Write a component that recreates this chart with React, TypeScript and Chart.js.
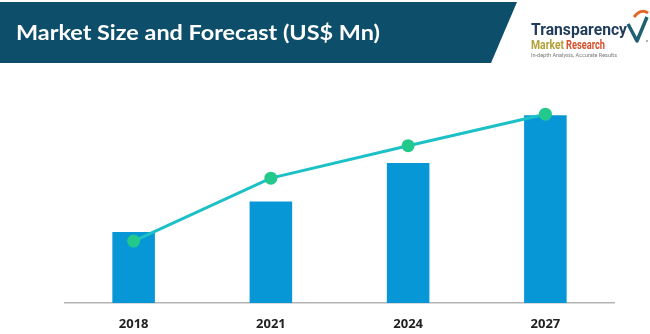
import React, { useEffect, useRef } from "react";
import { Chart, registerables } from "chart.js";

Chart.register(...registerables);

const years = ["2018", "2021", "2024", "2027"];
const marketSize = [35, 50, 69, 92.5];
const trendLine = [30.5, 61.5, 77.5, 93];
const yMin = 0;
const yMax = 100;

const title = "Market Size and Forecast (US$ Mn)";

export default function App() {
  const ref = useRef<HTMLCanvasElement | null>(null);

  useEffect(() => {
    if (!ref.current) return;
    const chart = new Chart(ref.current, {
      type: "bar",
      data: {
        labels: years,
        datasets: [
          {
            type: "line",
            data: trendLine,
            borderColor: "#1cc1c7",
            borderWidth: 3,
            pointRadius: 6.5,
            pointBackgroundColor: "#22c98b",
            pointBorderWidth: 0,
            tension: 0,
            order: 0,
          } as any,
          {
            type: "bar",
            data: marketSize,
            backgroundColor: "#0796d6",
            categoryPercentage: 1,
            barPercentage: 0.31,
            order: 1,
          },
        ],
      },
      options: {
        responsive: false,
        animation: false,
        devicePixelRatio: 1,
        layout: { padding: { left: 65, right: 36, top: 100, bottom: 0 } },
        plugins: { legend: { display: false }, tooltip: { enabled: false } },
        scales: {
          x: {
            grid: { display: false, drawTicks: false },
            border: { display: true, color: "#b3b3b3", width: 1.5 },
            ticks: {
              padding: 13,
              color: "#222",
              font: { family: "'Open Sans', sans-serif", size: 13, weight: "bold" },
            },
            afterFit: (scale: any) => {
              scale.height = 31;
            },
          },
          y: { display: false, min: yMin, max: yMax },
        },
      },
    });
    return () => chart.destroy();
  }, []);

  return (
    <div style={{ position: "fixed", left: 0, top: 0, width: 650, height: 334, background: "#fff" }}>
      <canvas ref={ref} width={650} height={334} style={{ position: "absolute", left: 0, top: 0 }} />
      <svg width={650} height={334} style={{ position: "absolute", left: 0, top: 0, pointerEvents: "none" }}>
        <polygon points="0,2 517,2 491,63 0,63" fill="#0d4e6b" />
        <text x={16} y={40} fill="#fff" fontFamily="Lato, 'Open Sans', sans-serif" fontWeight="bold" fontSize={21} textLength={364} lengthAdjust="spacingAndGlyphs">
          {title}
        </text>
        <text x={531} y={35} fill="#1f3c5b" fontFamily="Roboto, sans-serif" fontWeight="bold" fontSize={17} textLength={96} lengthAdjust="spacingAndGlyphs">
          Transparency
        </text>
        <text x={531} y={49} fill="#b2a136" fontFamily="Roboto, sans-serif" fontWeight="bold" fontSize={13} textLength={33} lengthAdjust="spacingAndGlyphs">
          Market
        </text>
        <text x={566} y={49} fill="#d4502b" fontFamily="Roboto, sans-serif" fontWeight="bold" fontSize={13} textLength={39} lengthAdjust="spacingAndGlyphs">
          Research
        </text>
        <text x={531} y={57} fill="#777" fontFamily="Roboto, sans-serif" fontSize={5} textLength={86} lengthAdjust="spacingAndGlyphs">
          In-depth Analysis, Accurate Results
        </text>
        <path d="M634,17 Q641,8 648,13" stroke="#e2672b" strokeWidth={3} fill="none" />
        <path d="M628,24 L637,41 L647,17" stroke="#1f5f73" strokeWidth={3.5} fill="none" strokeLinejoin="round" />
        <circle cx={647} cy={41} r={1} fill="#999" />
      </svg>
    </div>
  );
}
